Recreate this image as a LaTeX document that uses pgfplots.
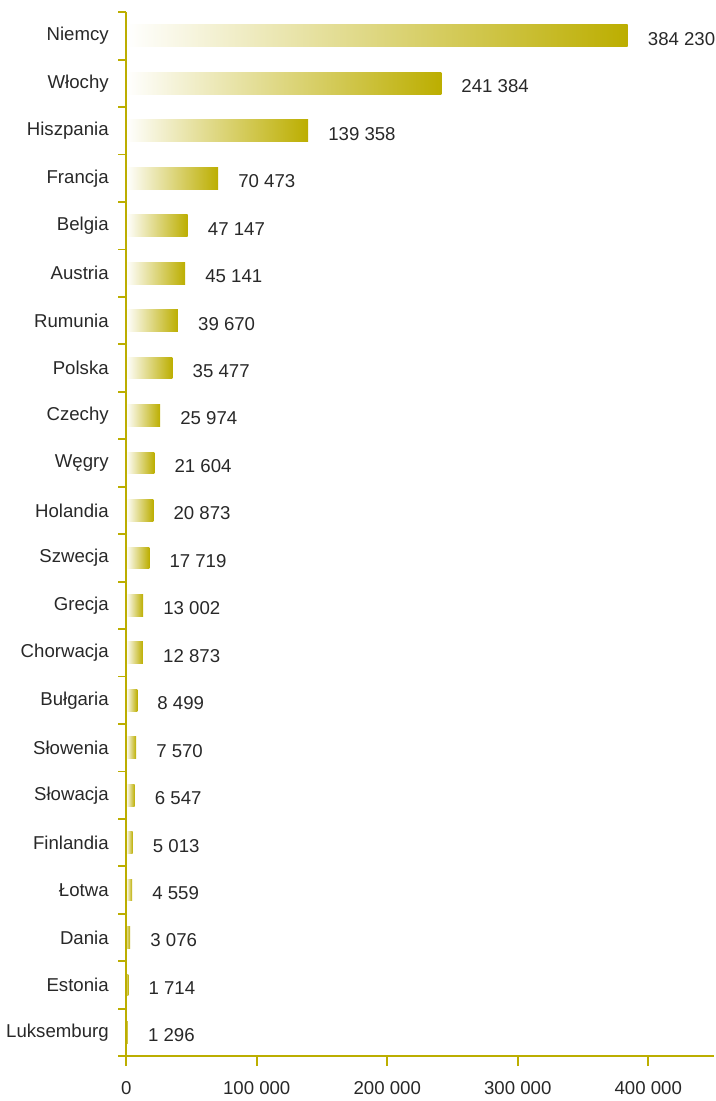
\documentclass[border={0pt 0pt 0pt 3pt}]{standalone}
\usepackage{fontspec}
\setmainfont{Liberation Sans}
\usepackage{pgfplots}
\pgfplotsset{compat=1.18}
\definecolor{gold}{RGB}{188,174,0}
\definecolor{txt}{RGB}{40,40,40}
\pgfplotsset{gbar/.style={draw=none, left color=white, right color=gold}}
\begin{document}
\fontsize{9.4}{11}\selectfont
\begin{tikzpicture}
\begin{axis}[
  scale only axis,
  width=296.5pt, height=527pt,
  y dir=reverse,
  axis on top,
  xmin=0, xmax=450000,
  ymin=-0.5, ymax=21.5,
  axis x line*=bottom, axis y line*=left,
  axis line style={-, draw=gold, line width=0.9pt},
  xtick={0,100000,200000,300000,400000},
  scaled x ticks=false,
  /pgf/number format/fixed,
  /pgf/number format/precision=0,
  /pgf/number format/assume math mode=true,
  /pgf/number format/1000 sep={\ },
  tick align=outside,
  major tick length=5pt,
  x tick style={draw=gold, line width=0.9pt},
  xticklabel style={text=txt, yshift=-4.5pt},
  ytick={0,...,21},
  yticklabels={Niemcy,Włochy,Hiszpania,Francja,Belgia,Austria,Rumunia,Polska,Czechy,Węgry,Holandia,Szwecja,Grecja,Chorwacja,Bułgaria,Słowenia,Słowacja,Finlandia,Łotwa,Dania,Estonia,Luksemburg},
  y tick style={draw=none},
  yticklabel style={text=txt, xshift=-0.5pt},
  extra y ticks={-0.5,0.5,...,21.5},
  extra y tick labels={},
  extra y tick style={major tick length=4pt, y tick style={draw=gold, line width=0.9pt}},
  xbar, bar width=11pt, bar shift=0pt,
  point meta=x,
  nodes near coords={\pgfmathprintnumber[fixed,precision=0,1000 sep={\ }]{\pgfplotspointmeta}},
  every node near coord/.append style={text=txt, anchor=west, inner sep=0pt, xshift=10pt, yshift=-1.5pt},
  clip=false,
]
\addplot[gbar] coordinates {(384230,0)};
\addplot[gbar] coordinates {(241384,1)};
\addplot[gbar] coordinates {(139358,2)};
\addplot[gbar] coordinates {(70473,3)};
\addplot[gbar] coordinates {(47147,4)};
\addplot[gbar] coordinates {(45141,5)};
\addplot[gbar] coordinates {(39670,6)};
\addplot[gbar] coordinates {(35477,7)};
\addplot[gbar] coordinates {(25974,8)};
\addplot[gbar] coordinates {(21604,9)};
\addplot[gbar] coordinates {(20873,10)};
\addplot[gbar] coordinates {(17719,11)};
\addplot[gbar] coordinates {(13002,12)};
\addplot[gbar] coordinates {(12873,13)};
\addplot[gbar] coordinates {(8499,14)};
\addplot[gbar] coordinates {(7570,15)};
\addplot[gbar] coordinates {(6547,16)};
\addplot[gbar] coordinates {(5013,17)};
\addplot[gbar] coordinates {(4559,18)};
\addplot[gbar, left color=gold!40!white] coordinates {(3076,19)};
\addplot[gbar, left color=gold!50!white] coordinates {(1714,20)};
\addplot[gbar, left color=gold!50!white] coordinates {(1296,21)};
\end{axis}
\end{tikzpicture}
\end{document}
